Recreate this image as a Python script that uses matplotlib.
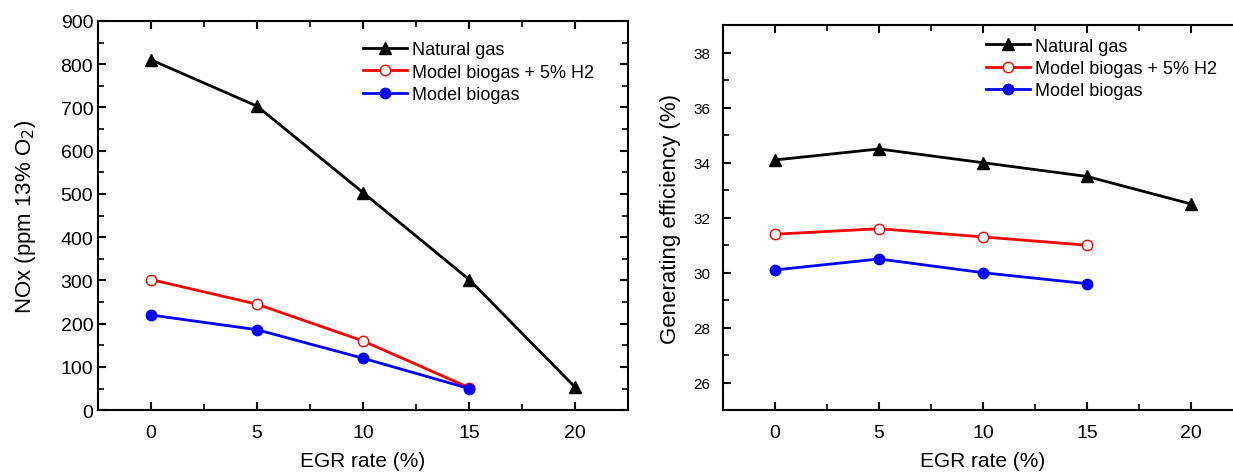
import matplotlib
matplotlib.use('Agg')
import matplotlib.pyplot as plt
from matplotlib.ticker import MultipleLocator

plt.rcParams['font.family'] = ['Liberation Sans', 'DejaVu Sans']

# EGR rates
egr = [0, 5, 10, 15, 20]
egr_bio = [0, 5, 10, 15]

# NOx (ppm 13% O2)
nox_ng = [810, 703, 503, 302, 53]
nox_h2 = [302, 245, 160, 52]
nox_bio = [220, 186, 120, 50]

# Generating efficiency (%)
eff_ng = [34.1, 34.5, 34.0, 33.5, 32.5]
eff_h2 = [31.4, 31.6, 31.3, 31.0]
eff_bio = [30.1, 30.5, 30.0, 29.6]

labels = ['Natural gas', 'Model biogas + 5% H2', 'Model biogas']

fig = plt.figure(figsize=(12.33, 4.77), dpi=100)
ax1 = fig.add_axes([0.0795, 0.138, 0.430, 0.816])
ax2 = fig.add_axes([0.5864, 0.138, 0.4217, 0.807])


def draw(ax, ng, h2, bio):
    ax.plot(egr, ng, color='black', marker='^', markersize=8.5, lw=2, label=labels[0])
    ax.plot(egr_bio, h2, color='red', marker='o', markersize=7.5, lw=2,
            markerfacecolor='white', markeredgecolor='red', label=labels[1])
    ax.plot(egr_bio, bio, color='blue', marker='o', markersize=7.5, lw=2, label=labels[2])
    ax.set_xlim(-2.5, 22.5)
    ax.set_xticks(egr)
    ax.xaxis.set_minor_locator(MultipleLocator(2.5))
    for s in ax.spines.values():
        s.set_linewidth(1.5)
    ax.tick_params(which='major', direction='in', length=6, width=1.5, top=True, right=True)
    ax.tick_params(which='minor', direction='in', length=4, width=1.2, top=True, right=True)
    ax.tick_params(axis='x', which='major', labelsize=14, pad=10)
    ax.set_xlabel('EGR rate (%)', fontsize=15, labelpad=7)


draw(ax1, nox_ng, nox_h2, nox_bio)
ax1.set_ylim(0, 900)
ax1.yaxis.set_major_locator(MultipleLocator(100))
ax1.yaxis.set_minor_locator(MultipleLocator(50))
ax1.tick_params(axis='y', which='major', labelsize=14)
ax1.set_ylabel('NOx (ppm 13% O$_2$)', fontsize=16, labelpad=16)
ax1.legend(loc='upper left', bbox_to_anchor=(0.47, 0.99), frameon=False, fontsize=13,
           handlelength=2.4, handletextpad=0.3, labelspacing=0.3)

draw(ax2, eff_ng, eff_h2, eff_bio)
ax2.set_ylim(25, 39)
ax2.yaxis.set_minor_locator(MultipleLocator(1))
ax2.set_yticks([26, 28, 30, 32, 34, 36, 38])
ax2.tick_params(axis='y', which='major', labelsize=11, pad=9)
ax2.set_ylabel('Generating efficiency (%)', fontsize=16, labelpad=9)
ax2.legend(loc='upper left', bbox_to_anchor=(0.475, 1.01), frameon=False, fontsize=13,
           handlelength=2.4, handletextpad=0.3, labelspacing=0.3)

fig.savefig('out.png', dpi=100)
